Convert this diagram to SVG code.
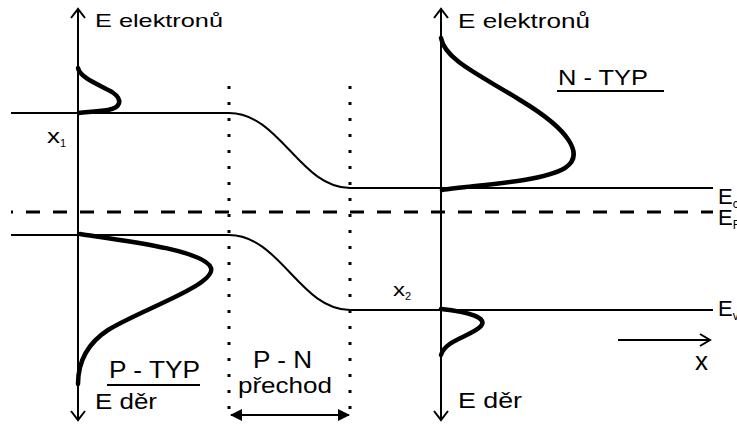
<svg xmlns="http://www.w3.org/2000/svg" width="737" height="426" viewBox="0 0 737 426">
<style>
.t{font-family:"Liberation Sans",Arial,sans-serif;fill:#000}
.thin{fill:none;stroke:#000;stroke-width:2}
.thick{fill:none;stroke:#000;stroke-width:4.5;stroke-linecap:round}
.dot{fill:none;stroke:#000;stroke-width:3;stroke-dasharray:3 13}
.dash{fill:none;stroke:#000;stroke-width:3;stroke-dasharray:14 13;stroke-dashoffset:12}
</style>
<defs>
<marker id="filled" viewBox="0 0 12 12" refX="11" refY="6" markerWidth="12" markerHeight="12" markerUnits="userSpaceOnUse" orient="auto-start-reverse">
<path d="M0,0 L12,6 L0,12 Z" fill="#000"/>
</marker>
</defs>
<g id="fermi-level">
<line class="dash" x1="11" y1="212" x2="713" y2="212"/>
</g>
<g id="boundaries">
<line class="dot" x1="229" y1="86" x2="229" y2="416"/>
<line class="dot" x1="350" y1="86" x2="350" y2="416"/>
</g>
<g id="bands">
<path class="thin" d="M11,113 L229,113 C280,113 300,188 350,188 L713,188"/>
<path class="thin" d="M11,235 L229,235 C280,235 300,310 350,310 L713,310"/>
</g>
<g id="left-axis">
<line class="thin" x1="78" y1="9" x2="78" y2="420"/>
<path class="thin" d="M71,18 L78,9 L85,18"/>
<path class="thin" d="M71,411 L78,420 L85,411"/>
<text class="t" x="95" y="27" font-size="19" textLength="128" lengthAdjust="spacingAndGlyphs">E elektronů</text>
<text class="t" x="95" y="409" font-size="22" textLength="62" lengthAdjust="spacingAndGlyphs">E děr</text>
</g>
<g id="right-axis">
<line class="thin" x1="441" y1="9" x2="441" y2="420"/>
<path class="thin" d="M434,18 L441,9 L448,18"/>
<path class="thin" d="M434,411 L441,420 L448,411"/>
<text class="t" x="458" y="28" font-size="20" textLength="132" lengthAdjust="spacingAndGlyphs">E elektronů</text>
<text class="t" x="458" y="408" font-size="22" textLength="64" lengthAdjust="spacingAndGlyphs">E děr</text>
</g>
<g id="distributions">
<path class="thick" d="M78,68 C80,78 100,85 112,92 C124,100 120,108 108,110 C95,112 85,112 79,113"/>
<path class="thick" d="M80,234 C120,240 205,250 211,268 C216,285 140,310 108,330 C85,345 78,365 78,384"/>
<path class="thick" d="M441,38 C445,60 480,75 520,100 C570,130 585,155 565,168 C540,183 470,185 442,190"/>
<path class="thick" d="M441,309 C470,312 488,318 481,326 C472,336 445,340 441,355"/>
</g>
<g id="p-type">
<text class="t" x="109" y="378" font-size="23" textLength="91" lengthAdjust="spacingAndGlyphs">P - TYP</text>
<line class="thin" x1="107" y1="385" x2="200" y2="385"/>
</g>
<g id="n-type">
<text class="t" x="558" y="85" font-size="22" textLength="90" lengthAdjust="spacingAndGlyphs">N - TYP</text>
<line class="thin" x1="557" y1="91" x2="664" y2="91"/>
</g>
<g id="junction">
<text class="t" x="253" y="368" font-size="24" textLength="59" lengthAdjust="spacingAndGlyphs">P - N</text>
<text class="t" x="238" y="393" font-size="22" textLength="94" lengthAdjust="spacingAndGlyphs">přechod</text>
</g>
<g id="connectors">
<line class="thin" x1="231" y1="415" x2="349" y2="415" marker-start="url(#filled)" marker-end="url(#filled)"/>
<line class="thin" x1="618" y1="340" x2="709" y2="340"/>
<path class="thin" d="M700,334 L710,340 L700,346"/>
</g>
<g id="labels">
<text class="t" x="47" y="143" font-size="20" textLength="13" lengthAdjust="spacingAndGlyphs">x</text>
<text class="t" x="60" y="147" font-size="11">1</text>
<text class="t" x="393" y="296" font-size="19" textLength="12" lengthAdjust="spacingAndGlyphs">x</text>
<text class="t" x="405" y="300" font-size="11">2</text>
<text class="t" x="695" y="370" font-size="25" textLength="13" lengthAdjust="spacingAndGlyphs">x</text>
<text class="t" x="718" y="204" font-size="22">E<tspan font-size="12" dy="4">c</tspan></text>
<text class="t" x="718" y="225" font-size="22">E<tspan font-size="12" dy="4">F</tspan></text>
<text class="t" x="718" y="316" font-size="22">E<tspan font-size="12" dy="4">v</tspan></text>
</g>
</svg>
